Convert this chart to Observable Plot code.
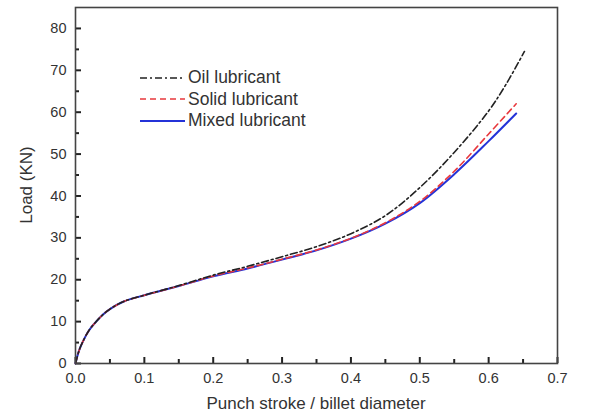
<!DOCTYPE html>
<html>
<head>
<meta charset="utf-8">
<script src="https://cdn.jsdelivr.net/npm/d3@7"></script>
<script src="https://cdn.jsdelivr.net/npm/@observablehq/plot@0.6"></script>
<style>
  body { margin: 0; background: #fff; }
  #wrap { position: relative; width: 595px; height: 415px; font-family: "Liberation Sans", Arial, sans-serif; color: #333; }
  #wrap > svg { position: absolute; left: 0; top: 0; }
  .title { position: absolute; font-size: 17px; color: #333; white-space: nowrap; line-height: 1; }
  #legend { position: absolute; left: 139px; top: 67px; font-size: 17.5px; color: #333; line-height: 1; }
  #legend .row { display: flex; align-items: center; height: 21.5px; }
  #legend svg { display: block; margin-right: 2px; }
</style>
</head>
<body>
<div id="wrap"></div>
<script>
// ---- data ----
const strokeMixed = [0, 0.005, 0.01, 0.02, 0.03, 0.04, 0.05, 0.07, 0.1, 0.15, 0.2, 0.25, 0.3, 0.35, 0.4, 0.45, 0.5, 0.55, 0.6, 0.64];
const loadMixed   = [0, 3, 5, 8, 10, 11.7, 13, 14.8, 16.3, 18.5, 20.8, 22.7, 24.8, 27, 29.8, 33.4, 38.3, 45.2, 53.1, 59.7];

const strokeSolid = [0, 0.005, 0.01, 0.02, 0.03, 0.04, 0.05, 0.07, 0.1, 0.15, 0.2, 0.25, 0.3, 0.35, 0.4, 0.45, 0.5, 0.55, 0.6, 0.64];
const loadSolid   = [0, 3, 5, 8, 10, 11.7, 13, 14.8, 16.3, 18.5, 20.9, 22.8, 24.9, 27.1, 29.9, 33.6, 38.7, 45.9, 54.8, 62];

const strokeOil = [0, 0.005, 0.01, 0.02, 0.03, 0.04, 0.05, 0.07, 0.1, 0.15, 0.2, 0.25, 0.3, 0.35, 0.4, 0.45, 0.5, 0.55, 0.6, 0.625, 0.652];
const loadOil   = [0, 3, 5, 8, 10, 11.7, 13, 14.8, 16.3, 18.6, 21.1, 23.2, 25.5, 27.9, 31, 35.3, 42, 50.4, 60.3, 66.6, 74.5];

const seriesNames = ["Oil lubricant", "Solid lubricant", "Mixed lubricant"];
const xMajor = [0, 0.1, 0.2, 0.3, 0.4, 0.5, 0.6, 0.7];
const xMinor = [0.05, 0.15, 0.25, 0.35, 0.45, 0.55, 0.65];
const yMajor = [0, 10, 20, 30, 40, 50, 60, 70, 80];
const yMinor = [5, 15, 25, 35, 45, 55, 65, 75];
const xTitle = "Punch stroke / billet diameter";
const yTitle = "Load (KN)";

const toRows = (xs, ys) => xs.map((s, i) => ({s, l: ys[i]}));
const oil = toRows(strokeOil, loadOil);
const solid = toRows(strokeSolid, loadSolid);
const mixed = toRows(strokeMixed, loadMixed);

const styles = [
  {stroke: "#222", strokeWidth: 1.6, strokeDasharray: "7,3,2,3"},
  {stroke: "#e8383d", strokeWidth: 1.6, strokeDasharray: "6,4"},
  {stroke: "#2433d8", strokeWidth: 2}
];

const W = 595, H = 415, mL = 75, mR = 38, mT = 7, mB = 52;
const fw = W - mL - mR, fh = H - mT - mB;
const xDom = [0, 0.7], yDom = [0, 85];
// tick lengths converted from pixels into data units
const xLen = px => px * (yDom[1] - yDom[0]) / fh;
const yLen = px => px * (xDom[1] - xDom[0]) / fw;
const tickStyle = {stroke: "#222", strokeWidth: 2};

const chart = Plot.plot({
  width: W,
  height: H,
  marginLeft: mL,
  marginRight: mR,
  marginTop: mT,
  marginBottom: mB,
  style: {fontFamily: "'Liberation Sans', Arial, sans-serif", color: "#333", background: "#fff"},
  x: {domain: xDom},
  y: {domain: yDom},
  marks: [
    Plot.axisX(xMajor, {tickSize: 0, tickPadding: 9, tickFormat: d => d.toFixed(1), label: null, fontSize: 14.5}),
    Plot.axisY(yMajor, {tickSize: 0, tickPadding: 9, tickFormat: d => String(d), label: null, fontSize: 14.5}),
    // inward ticks
    Plot.ruleX(xMajor, {x: d => d, y1: 0, y2: xLen(6), ...tickStyle}),
    Plot.ruleX(xMinor, {x: d => d, y1: 0, y2: xLen(4), ...tickStyle}),
    Plot.ruleY(yMajor, {y: d => d, x1: 0, x2: yLen(6), ...tickStyle}),
    Plot.ruleY(yMinor, {y: d => d, x1: 0, x2: yLen(4), ...tickStyle}),
    Plot.line(mixed, {x: "s", y: "l", curve: "catmull-rom", ...styles[2]}),
    Plot.line(solid, {x: "s", y: "l", curve: "catmull-rom", ...styles[1]}),
    Plot.line(oil, {x: "s", y: "l", curve: "catmull-rom", ...styles[0]}),
    Plot.frame({stroke: "#444", strokeWidth: 1.6})
  ]
});

const wrap = document.getElementById("wrap");
wrap.appendChild(chart);

// axis titles
const xt = document.createElement("div");
xt.className = "title"; xt.textContent = xTitle;
xt.style.left = "316px"; xt.style.top = "395px"; xt.style.transform = "translateX(-50%)";
wrap.appendChild(xt);
const yt = document.createElement("div");
yt.className = "title"; yt.textContent = yTitle;
yt.style.left = "26px"; yt.style.top = "185px"; yt.style.transform = "translate(-50%,-50%) rotate(-90deg)";
wrap.appendChild(yt);

// legend
const leg = document.createElement("div");
leg.id = "legend";
seriesNames.forEach((name, i) => {
  const st = styles[i];
  const row = document.createElement("div");
  row.className = "row";
  row.innerHTML = `<svg width="47" height="10"><line x1="1" x2="46" y1="5" y2="5" stroke="${st.stroke}" stroke-width="${st.strokeWidth}" ${st.strokeDasharray ? `stroke-dasharray="${st.strokeDasharray}"` : ""}/></svg><span>${name}</span>`;
  leg.appendChild(row);
});
wrap.appendChild(leg);
</script>
</body>
</html>
